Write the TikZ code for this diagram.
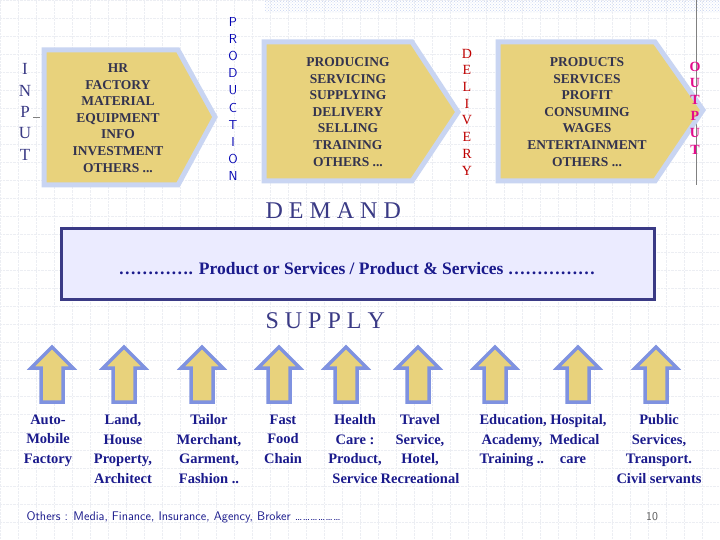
\documentclass[tikz,border=0pt]{standalone}
\usepackage{fontspec}
\setmainfont{Liberation Serif}
\usetikzlibrary{patterns}
\definecolor{navy}{HTML}{1A1A8C}
\definecolor{boxtxt}{HTML}{33334F}
\definecolor{tan}{HTML}{E8D27C}
\definecolor{lblue}{HTML}{C9D5F2}
\definecolor{ablue}{HTML}{7F92E0}
\definecolor{bnavy}{HTML}{3A3A85}
\definecolor{grid}{HTML}{ECEEF3}
\begin{document}
\begin{tikzpicture}[x=1pt,y=-1pt,
  bx/.style={fill=tan,draw=lblue,line width=5pt,line join=miter},
  btxt/.style={font=\fontsize{13.5}{16.6}\selectfont\bfseries,text=boxtxt,align=center},
  lab/.style={font=\fontsize{14.5}{19.5}\selectfont\bfseries,text=navy,align=center,anchor=north},
  uparrow/.style={fill=tan,draw=ablue,line width=3.5pt,line join=miter}]
\useasboundingbox (0,0) rectangle (720,540);
\fill[white] (0,0) rectangle (720,540);
\draw[grid,densely dotted,step=18pt] (0,0) grid (720,540);
\fill[pattern=crosshatch dots,pattern color=lblue] (265,0) rectangle (720,13);
\draw[gray] (696,0) -- (696,185);
% boxes
\draw[bx] (44,50) -- (178,50) -- (215,117) -- (178,185) -- (44,185) -- cycle;
\node[btxt] (b1) at (118,118) {HR\\FACTORY\\MATERIAL\\EQUIPMENT\\INFO\\INVESTMENT\\OTHERS ...};
\draw[bx] (264,42) -- (412,42) -- (458,112) -- (412,181) -- (264,181) -- cycle;
\node[btxt] (b2) at (348,112) {PRODUCING\\SERVICING\\SUPPLYING\\DELIVERY\\SELLING\\TRAINING\\OTHERS ...};
\draw[bx] (498,42) -- (655,42) -- (703,110) -- (655,181) -- (498,181) -- cycle;
\node[btxt] (b3) at (587,112) {PRODUCTS\\SERVICES\\PROFIT\\CONSUMING\\WAGES\\ENTERTAINMENT\\OTHERS ...};
% vertical words
\node[font=\fontsize{17}{21.3}\selectfont,text=bnavy,align=center] (inp) at (25,112) {I\\N\\P\\U\\T};
\draw[gray] (33,117) -- (40,117);
\node[font=\sffamily\fontsize{13}{17.1}\selectfont,text=blue!70!black,align=center] (prod) at (233,99) {P\\R\\O\\D\\U\\C\\T\\I\\O\\N};
\node[font=\fontsize{14}{16.7}\selectfont,text=red!75!black,align=center] (deliv) at (467,112) {D\\E\\L\\I\\V\\E\\R\\Y};
\node[font=\fontsize{14}{16.6}\selectfont\bfseries,text=magenta!90!violet,align=center] (outp) at (695,108) {O\\U\\T\\P\\U\\T};
% demand / supply
\node[font=\fontsize{24}{24}\selectfont,text=bnavy,anchor=west] (dem) at (262,211) {D E M A N D};
\draw[fill=blue!8,draw=bnavy,line width=3pt] (61,229) rectangle (654,299);
\node[font=\fontsize{17.5}{17.5}\selectfont\bfseries,text=navy] (prod2) at (357,269) {…………. Product or Services / Product \& Services ……………};
\node[font=\fontsize{24}{24}\selectfont,text=bnavy,anchor=west] (sup) at (262,321) {S U P P L Y};
% arrows
\foreach \x/\n in {52/a1,124/a2,202/a3,279/a4,346/a5,418/a6,495/a7,578/a8,656/a9}{
  \draw[uparrow] (\x-11,402) -- (\x-11,368) -- (\x-21,368) -- (\x,347) -- (\x+21,368) -- (\x+11,368) -- (\x+11,402) -- cycle;
}
\node[lab] (l1) at (48,411) {Auto-\\Mobile\\Factory};
\node[lab] (l2) at (123,411) {Land,\\House\\Property,\\Architect};
\node[lab] (l3) at (209,411) {Tailor\\Merchant,\\Garment,\\Fashion ..};
\node[lab] (l4) at (283,411) {Fast\\Food\\Chain};
\node[lab] (l5) at (355,411) {Health\\Care :\\Product,\\Service};
\node[lab] (l6) at (420,411) {Travel\\Service,\\Hotel,\\Recreational};
\node[lab,align=left,anchor=north west] (l7) at (476,411) {Education, Hospital,\\\hspace*{2pt}Academy, \ Medical\\Training .. \ \ \ care};
\node[lab] (l8) at (659,411) {Public\\Services,\\Transport.\\Civil servants};
\node[font=\sffamily\fontsize{12.5}{12.5}\selectfont,text=navy,anchor=west] (oth) at (23,517) {Others : Media, Finance, Insurance, Agency, Broker ………………};
\node[font=\sffamily\fontsize{12}{12}\selectfont,text=gray!70!black] (pg) at (652,517) {10};
\end{tikzpicture}
\end{document}
